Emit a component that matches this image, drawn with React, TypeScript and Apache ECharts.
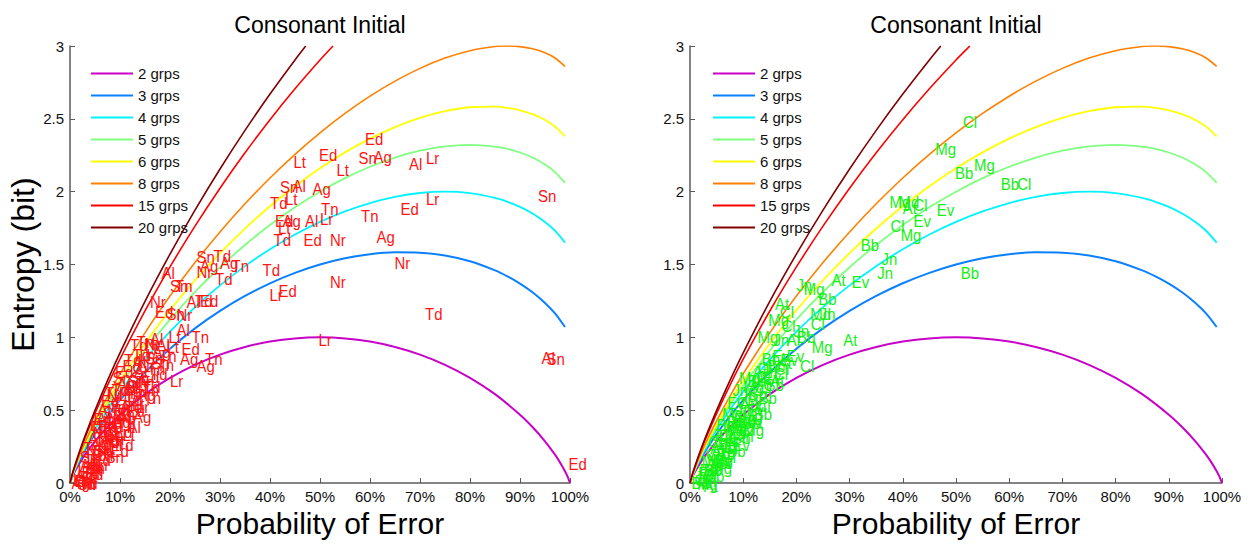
import React, { useEffect, useRef } from "react";
import * as echarts from "echarts";

// ---------- curve data (probability of error in %, entropy in bit) ----------
const GROUP_NAMES = ["2 grps", "3 grps", "4 grps", "5 grps", "6 grps", "8 grps", "15 grps", "20 grps"];
const GROUP_COLORS = ["#c800c8", "#0a80ff", "#00f4ff", "#80ff80", "#ffff00", "#ff8000", "#ff0000", "#800000"];
const GROUP_WIDTHS = [2, 2, 1.8, 1.8, 1.8, 1.6, 1.6, 1.6];

const X_2 = [0, 0.5, 1, 2, 3, 5, 7.5, 10, 15, 20, 25, 30, 35, 40, 45, 50, 55, 60, 65, 70, 75, 80, 85, 90, 92.5, 95, 97, 98, 99, 99.5, 100];
const H_2 = [0, 0.0454, 0.0808, 0.1414, 0.1944, 0.2864, 0.3843, 0.469, 0.6098, 0.7219, 0.8113, 0.8813, 0.9341, 0.971, 0.9928, 1, 0.9928, 0.971, 0.9341, 0.8813, 0.8113, 0.7219, 0.6098, 0.469, 0.3843, 0.2864, 0.1944, 0.1414, 0.0808, 0.0454, 0];

const X_FANO = [0, 0.5, 1, 2, 3, 5, 7.5, 10, 15, 20, 25, 30, 35, 40, 45, 50, 55, 60, 65, 70, 75, 80, 85, 87.5, 90, 92.5, 95, 97, 99];
const H_3 = [0, 0.0504, 0.0908, 0.1614, 0.2244, 0.3364, 0.4593, 0.569, 0.7598, 0.9219, 1.0613, 1.1813, 1.2841, 1.371, 1.4428, 1.5, 1.5428, 1.571, 1.5841, 1.5813, 1.5613, 1.5219, 1.4598, 1.4186, 1.369, 1.3093, 1.2364, 1.1644, 1.0708];
const H_4 = [0, 0.0533, 0.0966, 0.1731, 0.242, 0.3656, 0.5032, 0.6275, 0.8475, 1.0389, 1.2075, 1.3568, 1.4888, 1.605, 1.706, 1.7925, 1.8645, 1.922, 1.9643, 1.9908, 2.0, 1.9899, 1.957, 1.9304, 1.8955, 1.8504, 1.7921, 1.7318, 1.6499];
const H_5 = [0, 0.0554, 0.1008, 0.1814, 0.2544, 0.3864, 0.5343, 0.669, 0.9098, 1.1219, 1.3113, 1.4813, 1.6341, 1.771, 1.8928, 2.0, 2.0928, 2.171, 2.2341, 2.2813, 2.3113, 2.3219, 2.3098, 2.2936, 2.269, 2.2343, 2.1864, 2.1344, 2.0608];
const H_6 = [0, 0.057, 0.104, 0.1878, 0.2641, 0.4025, 0.5584, 0.7012, 0.9581, 1.1863, 1.3918, 1.5779, 1.7468, 1.8998, 2.0377, 2.161, 2.2698, 2.3641, 2.4433, 2.5066, 2.5527, 2.5794, 2.5834, 2.5753, 2.5587, 2.5321, 2.4922, 2.4466, 2.3795];
const H_8 = [0, 0.0594, 0.1089, 0.1975, 0.2786, 0.4268, 0.5949, 0.7497, 1.0309, 1.2834, 1.5132, 1.7235, 1.9167, 2.094, 2.2561, 2.4037, 2.5369, 2.6554, 2.7589, 2.8465, 2.9169, 2.9678, 2.9961, 2.9995, 2.9957, 2.9811, 2.9534, 2.9176, 2.8601];

const X_15 = [0, 0.5, 1, 2, 3, 5, 7.5, 10, 15, 20, 25, 30, 35, 40, 45, 50, 52.6];
const H_15 = [0, 0.0644, 0.1189, 0.2175, 0.3086, 0.4768, 0.6699, 0.8497, 1.1809, 1.4834, 1.7632, 2.0235, 2.2667, 2.494, 2.7061, 2.9037, 3.0];
const X_20 = [0, 0.5, 1, 2, 3, 5, 7.5, 10, 15, 20, 25, 30, 35, 40, 45, 47.14];
const H_20 = [0, 0.0666, 0.1233, 0.2264, 0.3218, 0.4988, 0.7029, 0.8938, 1.247, 1.5715, 1.8733, 2.1557, 2.4209, 2.6702, 2.9044, 3.0];

// ---------- left panel: speaker labels ----------
const LEFT_NAMES = [
  "Ed", "Lt", "Ed", "Sn", "Ag", "Lt", "Al", "Lr", "Sn", "Al", "Ag", "Td", "Lt", "Tn", "Lr", "Ed", "Tn", "Sn",
  "Ed", "Ag", "Lt", "Al", "Lr", "Td", "Ed", "Nr", "Ag", "Nr", "Td", "Nr", "Lr", "Ed", "Td", "Lr", "Al", "Sn", "Ed",
  "Al", "Sn", "Tn", "Nr", "Ed", "Sn", "Nr", "Al", "Td", "Ed", "Sn", "Td", "Ag", "Ag", "Tn", "Nr", "Td",
  "Lt", "Al", "Tn", "Al", "Lt", "Ed", "Sn", "Ag", "Ag", "Tn", "Td", "Tn", "Al", "Tn", "Td", "Lr", "Tn", "Tn", "Tn", "Td", "Lt",
  "Ag", "Ed", "Sn", "Td", "Lr", "Nr",
  "Lr", "Ag", "Sn", "Tn", "Ed", "Nr", "Al", "Td", "Lt", "Ag", "Ed", "Sn", "Tn", "Lr", "Al", "Nr", "Td", "Ag", "Lt", "Ed",
  "Sn", "Tn", "Lr", "Al", "Nr", "Td", "Ag", "Ed", "Lt", "Sn", "Tn", "Lr", "Al", "Nr", "Ag", "Td", "Ed", "Sn", "Tn", "Lt",
  "Al", "Lr", "Ag", "Nr", "Ed", "Td", "Sn", "Tn", "Td", "Al", "Ed", "Sn", "Td", "Lt",
  "Ag", "Td", "Ed", "Sn", "Lr", "Tn", "Al", "Nr", "Ed", "Td", "Lt", "Ag", "Sn", "Tn", "Lr", "Al", "Ed", "Nr", "Td", "Ag",
  "Tn", "Lt", "Sn", "Ed", "Td", "Al", "Lr", "Nr", "Ag", "Tn", "Sn", "Ed", "Td", "Lt", "Al", "Ag", "Lr", "Tn", "Ed", "Sn",
];
const LEFT_PE = [
  59.0, 44.7, 49.8, 57.7, 60.7, 53.3, 67.8, 71.2, 42.0, 44.5, 48.5, 40.0, 43.0, 50.2, 71.2, 66.1, 58.2, 93.6,
  41.0, 42.5, 41.6, 47.0, 50.0, 40.7, 46.7, 52.0, 61.3, 64.9, 38.5, 52.0, 39.9, 41.7, 71.0, 49.7, 94.3, 95.3, 99.7,
  18.3, 20.0, 21.0, 16.0, 17.0, 19.3, 21.3, 23.3, 25.0, 26.0, 25.3, 28.7, 26.0, 30.0, 32.3, 25.3, 29.0,
  19.7, 21.3, 24.3, 16.0, 19.3, 22.3, 16.3, 22.0, 25.3, 27.0, 12.0, 13.3, 17.3, 17.3, 16.0, 20.0, 13.3, 14.3, 14.7, 11.0, 15.0,
  0.3, 0.9, 1.4, 2.0, 0.6, 2.4,
  1.5, 2.0, 2.5, 2.8, 3.0, 3.2, 3.5, 3.8, 4.0, 4.2, 4.5, 4.8, 5.0, 5.2, 5.5, 5.8, 6.0, 6.2, 6.5, 6.8,
  7.0, 7.2, 7.5, 7.8, 8.0, 8.3, 8.5, 8.8, 9.0, 9.3, 9.5, 9.8, 10.0, 10.3, 10.6, 11.0, 11.3, 11.6, 12.0, 12.4,
  12.8, 13.1, 13.5, 13.8, 14.2, 14.6, 15.0, 15.5, 7.0, 5.5, 10.5, 8.5, 12.5, 4.0,
  1.0, 1.8, 2.3, 3.3, 4.3, 2.7, 3.6, 4.6, 5.6, 6.3, 7.4, 5.3, 6.6, 7.7, 8.6, 9.6, 6.2, 7.3, 8.3, 9.4,
  10.2, 11.3, 12.2, 9.0, 10.8, 12.6, 13.9, 14.9, 16.5, 17.8, 7.1, 8.1, 9.2, 10.5, 11.5, 12.6, 13.2, 3.9, 4.7, 2.0,
];
const LEFT_H = [
  2.36, 2.2, 2.25, 2.23, 2.24, 2.15, 2.19, 2.23, 2.03, 2.04, 2.02, 1.92, 1.95, 1.88, 1.95, 1.88, 1.83, 1.97,
  1.8, 1.8, 1.75, 1.8, 1.81, 1.67, 1.67, 1.67, 1.69, 1.51, 1.46, 1.38, 1.29, 1.32, 1.16, 0.98, 0.86, 0.85, 0.13,
  1.44, 1.35, 1.35, 1.24, 1.17, 1.16, 1.15, 1.24, 1.25, 1.25, 1.55, 1.56, 1.49, 1.51, 1.49, 1.45, 1.4,
  1.0, 1.05, 1.0, 0.99, 0.93, 0.92, 0.82, 0.85, 0.8, 0.85, 0.945, 0.97, 0.945, 0.81, 0.75, 0.7, 0.69, 0.64, 0.58, 0.52, 0.93,
  0.0, 0.01, -0.01, 0.0, 0.02, -0.01,
  0.08, 0.12, 0.1, 0.16, 0.06, 0.22, 0.13, 0.19, 0.09, 0.27, 0.16, 0.22, 0.31, 0.12, 0.26, 0.19, 0.36, 0.3, 0.23, 0.41,
  0.33, 0.27, 0.45, 0.38, 0.3, 0.5, 0.42, 0.35, 0.55, 0.47, 0.39, 0.6, 0.52, 0.44, 0.65, 0.57, 0.49, 0.7, 0.62, 0.54,
  0.76, 0.68, 0.6, 0.8, 0.73, 0.66, 0.86, 0.78, 0.62, 0.5, 0.8, 0.72, 0.88, 0.4,
  0.05, 0.04, 0.07, 0.1, 0.12, 0.24, 0.3, 0.34, 0.38, 0.28, 0.32, 0.44, 0.48, 0.52, 0.47, 0.45, 0.56, 0.6, 0.64, 0.68,
  0.62, 0.66, 0.72, 0.76, 0.84, 0.83, 0.88, 0.95, 0.9, 0.87, 0.18, 0.22, 0.26, 0.33, 0.38, 0.45, 0.52, 0.38, 0.44, 0.18,
];

// ---------- right panel: speaker labels ----------
const RIGHT_NAMES = [
  "Cl", "Mg", "Bb", "Mg", "Bb", "Cl", "Mg", "Md", "At", "Cl", "Ev", "Ev", "Cl", "Mg", "Bb", "Jn", "Jn", "Bb",
  "At", "Ev", "Jn", "Mg", "Bb", "At", "Mg", "Cl", "Md", "Jn", "Cl", "Mg", "At", "Mg", "Cl", "Ev", "Cl", "Jn",
  "Jn", "At", "Bb", "At", "Bb", "Bb", "Ev", "Bb",
  "Bb", "Cl", "Mg", "Jn", "At",
  "Ev", "Mg", "Bb", "Cl", "Jn", "At", "Mg", "Ev", "Bb", "Cl", "Jn", "Mg", "At", "Bb", "Ev", "Cl", "Mg", "Jn", "Bb",
  "At", "Mg", "Cl", "Ev", "Bb", "Jn", "Mg", "Cl", "Jn", "Bb", "Ev", "Cl",
  "Bb", "Mg", "At", "Cl", "Bb", "Ev", "Jn", "Mg", "At", "Bb", "Cl",
  "Jn", "Bb", "Cl", "Mg", "At", "Ev", "Bb", "Jn", "Cl", "Mg", "At", "Bb", "Ev", "Cl", "Jn", "Mg", "Bb", "At", "Cl", "Ev",
  "Mg", "Jn", "Bb", "Cl", "At", "Ev", "Mg", "Bb", "Jn", "Cl",
];
const RIGHT_PE = [
  51.3, 46.1, 49.8, 53.4, 58.4, 61.5, 37.5, 39.2, 40.0, 42.0, 46.4, 42.0, 37.7, 39.6, 32.1, 36.0, 35.2, 50.9,
  26.6, 30.4, 20.0, 21.4, 24.1, 16.0, 14.7, 16.9, 22.6, 24.4, 22.7, 12.7, 28.8, 22.9, 20.7, 18.2, 17.2, 19.4,
  15.7, 18.2, 20.1, 15.1, 12.9, 9.8, 15.5, 13.5,
  0.3, 0.8, 1.3, 2.0, 2.6,
  1.5, 2.2, 2.6, 3.0, 3.4, 3.8, 4.2, 4.6, 5.0, 5.4, 5.8, 6.2, 6.6, 7.0, 7.4, 7.8, 8.2, 8.6, 9.0,
  9.4, 9.8, 10.2, 10.6, 11.0, 11.4, 11.5, 12.5, 13.5, 14.5, 17.0, 16.0,
  3.0, 4.0, 5.0, 6.0, 7.0, 8.0, 9.0, 10.0, 11.0, 12.0, 12.5,
  1.0, 1.8, 2.4, 3.2, 4.0, 4.6, 5.2, 5.8, 6.4, 6.8, 7.4, 7.9, 8.3, 8.8, 9.5, 10.0, 10.8, 11.8, 12.8, 13.8,
  9.2, 8.0, 14.2, 15.8, 16.5, 7.0, 6.0, 5.0, 4.2, 3.5,
];
const RIGHT_H = [
  2.48, 2.29, 2.13, 2.18, 2.05, 2.05, 1.93, 1.93, 1.89, 1.91, 1.87, 1.8, 1.76, 1.7, 1.63, 1.54, 1.44, 1.44,
  1.39, 1.38, 1.36, 1.33, 1.26, 1.23, 1.12, 1.17, 1.16, 1.16, 1.09, 1.0, 0.98, 0.93, 0.8, 0.87, 1.08, 1.04,
  0.98, 0.98, 1.0, 0.7, 0.585, 0.41, 0.87, 0.85,
  0.0, 0.02, -0.01, 0.01, -0.02,
  0.07, 0.14, 0.09, 0.19, 0.12, 0.24, 0.16, 0.29, 0.2, 0.33, 0.25, 0.38, 0.29, 0.42, 0.34, 0.46, 0.38, 0.5, 0.42,
  0.54, 0.46, 0.57, 0.5, 0.61, 0.53, 0.68, 0.73, 0.77, 0.8, 0.84, 0.78,
  0.05, 0.1, 0.14, 0.18, 0.22, 0.26, 0.32, 0.36, 0.42, 0.47, 0.53,
  0.04, 0.09, 0.05, 0.16, 0.22, 0.15, 0.27, 0.32, 0.24, 0.36, 0.4, 0.31, 0.44, 0.55, 0.6, 0.66, 0.7, 0.76, 0.79, 0.72,
  0.72, 0.64, 0.67, 0.75, 0.82, 0.55, 0.47, 0.4, 0.33, 0.28,
];

const CURVES_X = [X_2, X_FANO, X_FANO, X_FANO, X_FANO, X_FANO, X_15, X_20];
const CURVES_H = [H_2, H_3, H_4, H_5, H_6, H_8, H_15, H_20];

const SANS = '"Liberation Sans", Arial, Helvetica, sans-serif';

const PANELS = [
  { left: 70, width: 500, legendLeft: 85, labelColor: "#ff1414", names: LEFT_NAMES, pe: LEFT_PE, h: LEFT_H },
  { left: 690, width: 532, legendLeft: 707, labelColor: "#14f014", names: RIGHT_NAMES, pe: RIGHT_PE, h: RIGHT_H },
];

export default function App() {
  const ref = useRef<HTMLDivElement>(null);
  useEffect(() => {
    if (!ref.current) return;
    const chart = echarts.init(ref.current, null, { renderer: "svg" });
    const TOP = 46;
    const HEIGHT = 437;
    const axisColor = "#5a5a5a";
    const grid: any[] = [];
    const xAxis: any[] = [];
    const yAxis: any[] = [];
    const title: any[] = [];
    const legend: any[] = [];
    const series: any[] = [];
    PANELS.forEach((pn, gi) => {
      grid.push({ left: pn.left, top: TOP, width: pn.width, height: HEIGHT });
      title.push({
        text: "Consonant Initial",
        left: pn.left + pn.width / 2 - 5,
        top: 8,
        textAlign: "center",
        textStyle: { fontSize: 23, fontWeight: "normal", color: "#000", fontFamily: SANS },
      });
      xAxis.push({
        type: "value",
        gridIndex: gi,
        min: 0,
        max: 100,
        interval: 10,
        name: "Probability of Error",
        nameLocation: "middle",
        nameGap: 21,
        nameTextStyle: { fontSize: 30, color: "#000", fontFamily: SANS, verticalAlign: "top" },
        axisLine: { show: true, lineStyle: { color: axisColor, width: 1.5 } },
        axisTick: { show: true, inside: true, length: 5, lineStyle: { color: axisColor } },
        axisLabel: { formatter: "{value}%", color: "#111", fontSize: 15, margin: 6, fontFamily: SANS },
        splitLine: { show: false },
      });
      yAxis.push({
        type: "value",
        gridIndex: gi,
        min: 0,
        max: 3,
        interval: 0.5,
        name: gi === 0 ? "Entropy (bit)" : "",
        nameLocation: "middle",
        nameGap: 25,
        nameTextStyle: { fontSize: 32, color: "#000", fontFamily: SANS },
        axisLine: { show: true, lineStyle: { color: axisColor, width: 1.5 } },
        axisTick: { show: true, inside: true, length: 5, lineStyle: { color: axisColor } },
        axisLabel: { color: "#111", fontSize: 15, margin: 6, fontFamily: SANS },
        splitLine: { show: false },
      });
      legend.push({
        data: GROUP_NAMES,
        orient: "vertical",
        left: pn.legendLeft,
        top: 61,
        itemWidth: 42,
        itemHeight: 14,
        itemGap: 7,
        selectedMode: false,
        itemStyle: { opacity: 0 },
        textStyle: { fontSize: 15, color: "#111", fontFamily: SANS },
      });
      GROUP_NAMES.forEach((name, k) => {
        const xs = CURVES_X[k];
        const hs = CURVES_H[k];
        series.push({
          type: "line",
          name,
          xAxisIndex: gi,
          yAxisIndex: gi,
          data: xs.map((x, i) => [x, hs[i]]),
          smooth: 0.3,
          symbol: "none",
          lineStyle: { color: GROUP_COLORS[k], width: GROUP_WIDTHS[k] },
          itemStyle: { color: GROUP_COLORS[k] },
          z: 2,
          silent: true,
        });
      });
      const names = pn.names;
      const color = pn.labelColor;
      series.push({
        type: "custom",
        name: "labels" + gi,
        xAxisIndex: gi,
        yAxisIndex: gi,
        silent: true,
        z: 4,
        clip: false,
        data: pn.pe.map((p, i) => [p, pn.h[i]]),
        renderItem: (params: any, api: any) => {
          const pt = api.coord([api.value(0), api.value(1)]);
          return {
            type: "text",
            x: pt[0],
            y: pt[1],
            scaleX: 0.88,
            style: {
              text: names[params.dataIndex],
              fill: color,
              fontSize: 17,
              fontFamily: SANS,
              align: "left",
              verticalAlign: "middle",
            },
          };
        },
      });
    });
    chart.setOption({ animation: false, backgroundColor: "#fff", title, grid, xAxis, yAxis, legend, series });
    return () => chart.dispose();
  }, []);
  return <div ref={ref} style={{ position: "fixed", left: 0, top: 0, width: 1249, height: 545 }} />;
}
